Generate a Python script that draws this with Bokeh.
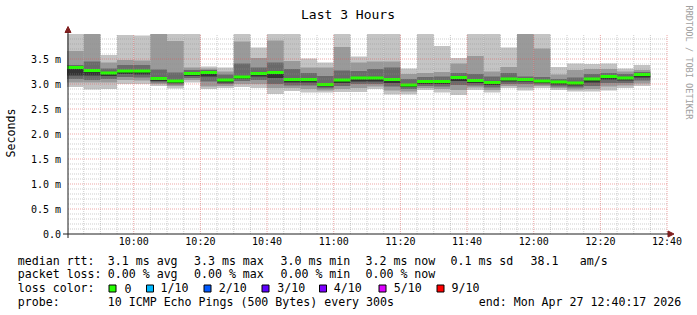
import math
import pandas as pd
from bokeh.plotting import figure
from bokeh.models import Range1d, Arrow, NormalHead
from bokeh.core.properties import value
from bokeh.embed import file_html
from bokeh.resources import INLINE

MONO = "DejaVu Sans Mono"

# ---------------- data: 35 five-minute steps starting 09:40 ----------------
step_start = "2026-04-27 09:40:00"
n_steps = 35
# sorted ping percentiles (ms): cp1 lowest .. cp8 highest drawn
cp8 = [4.05, 4.10, 3.58, 3.98, 3.97, 4.10, 4.05, 4.02, 3.35, 3.33,
       4.02, 3.73, 4.02, 4.02, 3.51, 3.43, 4.02, 3.55, 4.02, 4.02,
       3.31, 4.02, 3.76, 3.52, 4.02, 4.02, 3.73, 4.10, 4.02, 3.34,
       3.41, 3.40, 3.41, 3.31, 3.38]
cp7 = [3.66, 4.03, 3.43, 3.48, 3.47, 4.03, 3.86, 3.33, 3.31, 3.25,
       3.85, 3.52, 3.87, 3.46, 3.33, 3.33, 3.74, 3.43, 3.45, 3.45,
       3.20, 3.22, 3.24, 3.41, 3.56, 3.25, 3.34, 4.03, 3.71, 3.19,
       3.28, 3.30, 3.30, 3.25, 3.28]
cp6 = [3.38, 3.45, 3.31, 3.38, 3.38, 3.29, 3.23, 3.28, 3.28, 3.19,
       3.41, 3.33, 3.43, 3.30, 3.22, 3.16, 3.27, 3.26, 3.30, 3.33,
       3.10, 3.14, 3.15, 3.22, 3.20, 3.15, 3.22, 3.15, 3.14, 3.10,
       3.13, 3.20, 3.22, 3.20, 3.24]
median = [3.33, 3.27, 3.22, 3.26, 3.26, 3.11, 3.06, 3.21, 3.23, 3.08,
          3.14, 3.21, 3.23, 3.09, 3.09, 2.99, 3.08, 3.12, 3.12, 3.09,
          2.98, 3.05, 3.05, 3.13, 3.07, 3.03, 3.10, 3.09, 3.06, 3.04,
          3.02, 3.10, 3.15, 3.12, 3.19]
cp5 = [3.31, 3.25, 3.20, 3.24, 3.24, 3.09, 3.04, 3.19, 3.21, 3.06,
       3.12, 3.19, 3.21, 3.07, 3.07, 2.97, 3.06, 3.10, 3.10, 3.07,
       2.96, 3.03, 3.03, 3.11, 3.05, 3.01, 3.08, 3.07, 3.04, 3.02,
       3.00, 3.08, 3.13, 3.10, 3.17]
cp4 = [3.17, 3.17, 3.16, 3.20, 3.19, 3.06, 3.02, 3.16, 3.15, 3.03,
       3.10, 3.15, 3.12, 3.03, 3.03, 2.95, 3.02, 3.05, 3.05, 3.02,
       2.94, 3.00, 3.00, 3.06, 3.02, 2.98, 3.05, 3.05, 3.02, 2.99,
       2.97, 3.03, 3.09, 3.07, 3.13]
cp3 = [3.10, 3.08, 3.10, 3.14, 3.13, 3.03, 2.99, 3.12, 3.05, 3.00,
       3.06, 3.08, 3.00, 2.97, 2.97, 2.91, 2.96, 3.00, 3.00, 2.95,
       2.90, 2.96, 2.95, 2.98, 2.97, 2.93, 3.00, 3.00, 2.99, 2.95,
       2.93, 2.96, 3.02, 3.02, 3.07]
cp2 = [3.03, 3.03, 3.03, 3.08, 3.07, 3.00, 2.96, 3.08, 2.95, 2.96,
       3.00, 3.00, 2.92, 2.92, 2.90, 2.87, 2.90, 2.92, 2.95, 2.87,
       2.85, 2.92, 2.90, 2.88, 2.93, 2.88, 2.96, 2.93, 2.96, 2.92,
       2.89, 2.90, 2.95, 2.97, 3.01]
cp1 = [2.94, 2.89, 2.90, 3.00, 3.00, 2.96, 2.91, 3.03, 2.90, 2.92,
       2.94, 2.92, 2.80, 2.86, 2.83, 2.83, 2.84, 2.84, 2.90, 2.79,
       2.79, 2.88, 2.83, 2.78, 2.88, 2.83, 2.92, 2.87, 2.92, 2.88,
       2.85, 2.85, 2.87, 2.92, 2.96]

title_text = "Last 3 Hours"
y_label = "Seconds"
watermark = "RRDTOOL / TOBI OETIKER"
y_ticks = [0.0, 0.5, 1.0, 1.5, 2.0, 2.5, 3.0, 3.5]
y_tick_labels = ["0.0", "0.5 m", "1.0 m", "1.5 m", "2.0 m", "2.5 m", "3.0 m", "3.5 m"]
x_tick_times = ["10:00", "10:20", "10:40", "11:00", "11:20", "11:40", "12:00", "12:20", "12:40"]
day = "2026-04-27 "
window_start = "2026-04-27 09:40:17"
window_end = "2026-04-27 12:40:17"
YMAX = 4.0

rtt_row = ["median rtt:", "3.1 ms avg", "3.3 ms max", "3.0 ms min", "3.2 ms now",
           "0.1 ms sd", "38.1", "am/s"]
loss_row = ["packet loss:", "0.00 % avg", "0.00 % max", "0.00 % min", "0.00 % now"]
loss_labels = ["0", "1/10", "2/10", "3/10", "4/10", "5/10", "9/10"]
loss_colors = ["#26ff00", "#00b8ff", "#0059ff", "#5e00ff", "#7e00ff", "#dd00ff", "#ff0000"]
probe_row = ["probe:", "10 ICMP Echo Pings (500 Bytes) every 300s", "end: Mon Apr 27 12:40:17 2026"]

# ---------------- geometry (page pixels) ----------------
W, H = 697, 315
FL, FB, FW, FH = 67.5, 233.5, 600, 200   # graph area left / bottom / width / height


def ms(ts):
    return pd.Timestamp(ts).value / 1e6


xs, xe = ms(window_start), ms(window_end)


def X(px):
    return xs + (px - FL) * (xe - xs) / FW


def Y(py):
    return (FB - py) * YMAX / FH


p = figure(width=W, height=H, output_backend="svg", toolbar_location=None,
           x_range=Range1d(X(0), X(W)), y_range=Range1d(Y(H), Y(0)),
           min_border=0, x_axis_location=None, y_axis_location=None)
p.grid.visible = False
p.outline_line_color = None
p.background_fill_color = "white"
p.border_fill_color = "white"

starts = pd.date_range(step_start, periods=n_steps, freq="5min")
left = [t.value / 1e6 for t in starts]
right = [(t + pd.Timedelta(minutes=5)).value / 1e6 for t in starts]


def clip(vals):
    return [min(v, YMAX) for v in vals]


# smoke bands (outer to inner)
bands = [(cp1, cp8, "#c4c4c4"), (cp2, cp7, "#9a9a9a"), (cp3, cp6, "#6a6a6a"), (cp4, cp5, "#333333")]
for lo, hi, col in bands:
    p.quad(left=left, right=right, bottom=clip(lo), top=clip(hi), fill_color=col, line_color=None)

# median
p.segment(x0=left, x1=right, y0=median, y1=median, line_color=loss_colors[0],
          line_width=3, line_cap="butt")

# grid (drawn over the smoke, like rrdtool)
major_x = [ms(day + t) for t in x_tick_times]
minor_x = [t.value / 1e6 for t in pd.date_range(day + "09:45", day + "12:35", freq="5min")
           if t.minute % 20 != 0]
minor_y = [round(i * 0.1, 1) for i in range(1, 40) if i % 5 != 0]
major_y = y_ticks[1:]
p.segment(x0=minor_x, x1=minor_x, y0=0, y1=YMAX, line_color="#8f8f8f", line_alpha=0.45,
          line_width=1, line_dash="1 1")
p.segment(x0=xs, x1=xe, y0=minor_y, y1=minor_y, line_color="#8f8f8f", line_alpha=0.45,
          line_width=1, line_dash="1 1")
p.segment(x0=major_x, x1=major_x, y0=0, y1=YMAX, line_color="#de4f4f", line_alpha=0.5,
          line_width=1, line_dash="1 1")
p.segment(x0=xs, x1=xe, y0=major_y, y1=major_y, line_color="#de4f4f", line_alpha=0.5,
          line_width=1, line_dash="1 1")

# axis lines with arrows
head_col = "#801f1f"
p.add_layout(Arrow(x_start=X(62.5), y_start=0, x_end=X(673.5), y_end=0,
                   line_color="#1f1f1f", line_width=1,
                   end=NormalHead(size=6, fill_color=head_col, line_color=head_col)))
p.add_layout(Arrow(x_start=xs, y_start=Y(237.5), x_end=xs, y_end=Y(26),
                   line_color="#1f1f1f", line_width=1,
                   end=NormalHead(size=6, fill_color=head_col, line_color=head_col)))

# tick labels
p.text(x=[X(60.5)] * len(y_ticks), y=y_ticks, text=y_tick_labels, text_font=value(MONO),
       text_font_size="10px", text_align="right", text_baseline="middle", text_color="black")
p.text(x=major_x, y=[Y(240.5)] * len(major_x), text=x_tick_times, text_font=value(MONO),
       text_font_size="10px", text_align="center", text_baseline="middle", text_color="black")

# title, axis title, watermark
p.text(x=[X(347.5)], y=[Y(13.5)], text=[title_text], text_font=value(MONO),
       text_font_size="13px", text_align="center", text_baseline="middle", text_color="black")
p.text(x=[X(10.8)], y=[Y(132.5)], text=[y_label], angle=math.pi / 2, text_font=value(MONO),
       text_font_size="11.6px", text_align="center", text_baseline="middle", text_color="black")
p.text(x=[X(688.5)], y=[Y(5)], text=[watermark], angle=-math.pi / 2, text_font=value(MONO),
       text_font_size="8.6px", text_align="left", text_baseline="middle", text_color="#a0a0a0")

# legend
row_mid = [260, 273.8, 287.8, 301.7]
tx, ty, tt = [], [], []
for s, x in zip(rtt_row, [17.3, 107.3, 193.5, 280, 365, 450, 530, 579.3]):
    tx.append(X(x)); ty.append(Y(row_mid[0])); tt.append(s)
for s, x in zip(loss_row, [17.3, 107.3, 193.5, 280, 365]):
    tx.append(X(x)); ty.append(Y(row_mid[1])); tt.append(s)
tx.append(X(17.3)); ty.append(Y(row_mid[2])); tt.append("loss color:")
for s, x in zip(loss_labels, [124, 160, 218.3, 276.7, 333.3, 393.3, 451]):
    tx.append(X(x)); ty.append(Y(row_mid[2])); tt.append(s)
for s, x in zip(probe_row, [17.3, 107.3, 478.3]):
    tx.append(X(x)); ty.append(Y(row_mid[3])); tt.append(s)
p.text(x=tx, y=ty, text=tt, text_font=value(MONO), text_font_size="11.6px",
       text_baseline="middle", text_align="left", text_color="black")

box_left = [108.5, 146, 203.5, 261.5, 319, 378.5, 436.5]
p.quad(left=[X(b) for b in box_left], right=[X(b + 7) for b in box_left],
       top=[Y(284.5)] * len(box_left), bottom=[Y(291.5)] * len(box_left),
       fill_color=loss_colors, line_color="black", line_width=1)

open("out.html", "w").write(file_html(p, INLINE))
